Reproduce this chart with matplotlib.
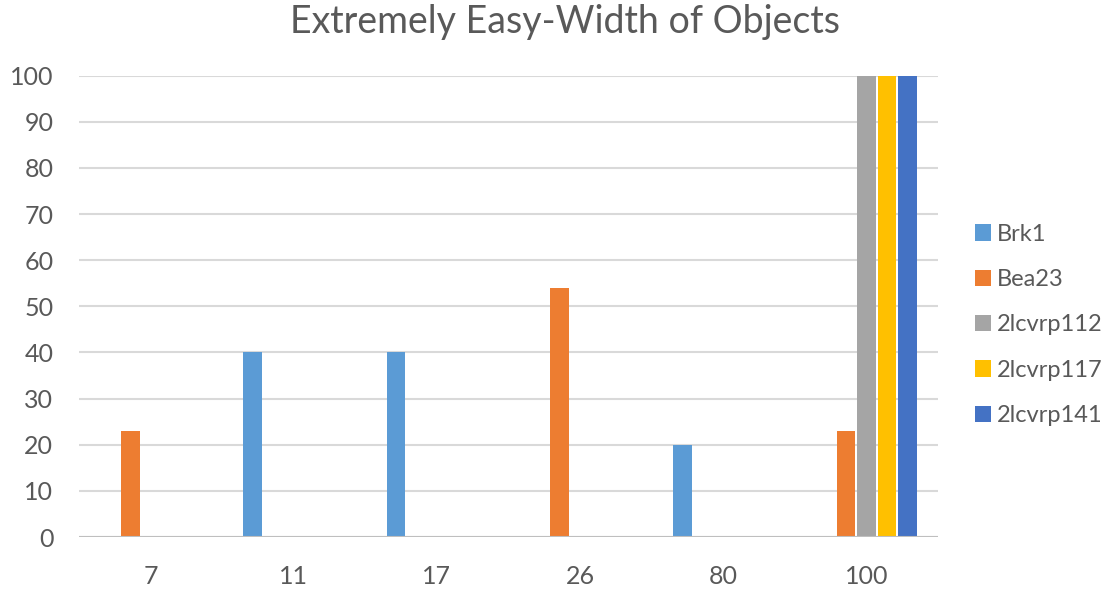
import matplotlib
matplotlib.use("Agg")
import matplotlib.pyplot as plt
import numpy as np

# widths of objects on the x axis, one value per series in each group
categories = ["7", "11", "17", "26", "80", "100"]
series_names = ["Brk1", "Bea23", "2lcvrp112", "2lcvrp117", "2lcvrp141"]
brk1 = [0, 40, 40, 0, 20, 0]
bea23 = [23, 0, 0, 54, 0, 23]
lcvrp112 = [0, 0, 0, 0, 0, 100]
lcvrp117 = [0, 0, 0, 0, 0, 100]
lcvrp141 = [0, 0, 0, 0, 0, 100]
yticks = [0, 10, 20, 30, 40, 50, 60, 70, 80, 90, 100]

colors = ["#5B9BD5", "#ED7D31", "#A5A5A5", "#FFC000", "#4472C4"]
txt = "#595959"

plt.rcParams['font.family'] = ['Lato', 'DejaVu Sans']

fig = plt.figure(figsize=(11.19, 5.9), dpi=100)
ax = fig.add_axes([0.0706, 0.0898, 0.7677, 0.7819])

x = np.arange(len(categories))
slot = 1.0 / 7
data = [brk1, bea23, lcvrp112, lcvrp117, lcvrp141]
for i, (name, vals) in enumerate(zip(series_names, data)):
    ax.bar(x + (i - 2) * slot, vals, width=slot * 0.92, color=colors[i],
           label=name, zorder=3)

ax.set_xlim(-0.5, len(categories) - 0.5)
ax.set_ylim(0, 100)
ax.set_yticks(yticks)
ax.set_xticks(x)
ax.set_xticklabels(categories)
ax.yaxis.grid(True, color="#D9D9D9", linewidth=1.5, zorder=0)
ax.axhline(0, color="#BFBFBF", linewidth=1.5, zorder=4)
for s in ax.spines.values():
    s.set_visible(False)
ax.tick_params(axis="both", length=0, labelsize=18, colors=txt)
ax.tick_params(axis="y", pad=18.5)
ax.tick_params(axis="x", pad=20)

fig.text(0.5045, 1 - 33 / 590, "Extremely Easy-Width of Objects",
         ha="center", va="baseline", fontsize=27, color=txt)

leg = ax.legend(loc="center left", bbox_to_anchor=(1.043, 0.4596), frameon=False,
                fontsize=17, labelcolor=txt, handlelength=0.68, handleheight=0.68,
                handletextpad=0.25, labelspacing=1.03, borderpad=0,
                borderaxespad=0)

fig.savefig("out.png", dpi=100)
